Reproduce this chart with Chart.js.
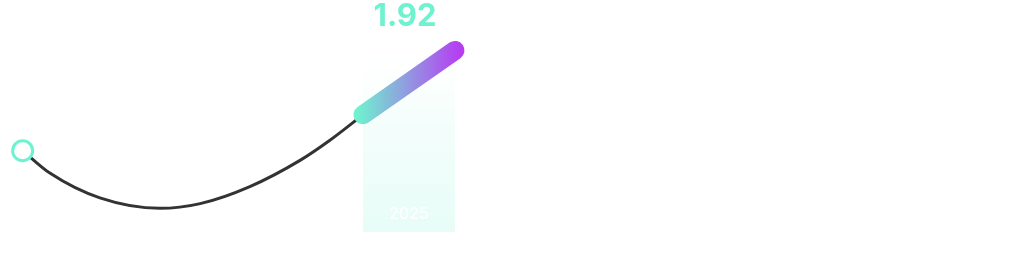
<!DOCTYPE html>
<html>
<head>
<meta charset="utf-8">
<script src="https://cdn.jsdelivr.net/npm/chart.js@4"></script>
<style>
  html, body { margin: 0; padding: 0; background: #fff; }
  #wrap { width: 1024px; height: 258px; position: relative; }
</style>
</head>
<body>
<div id="wrap"><canvas id="chart"></canvas></div>
<script>
// Datos de la curva (anio fraccional, valor)
const trendYears = [2021.30, 2021.60, 2022.14, 2022.79, 2023.23, 2023.77, 2024.32, 2024.64, 2025.00];
const trendValues = [0.86, 0.62, 0.36, 0.25, 0.30, 0.48, 0.76, 0.97, 1.24];
// Tramo destacado
const highlightYears = [2025, 2026];
const highlightValues = [1.24, 1.92];
const highlightLabel = '2025';
const valueLabel = '1.92';

const mint = '#6ff2cf';
const purple = '#b63cf2';

const toPoints = (xs, ys) => xs.map((x, i) => ({ x, y: ys[i] }));

function bandGradient(context) {
  const chart = context.chart;
  const area = chart.chartArea;
  if (!area) return 'rgba(111,242,207,0.12)';
  const top = chart.scales.y.getPixelForValue(highlightValues[1]);
  const g = chart.ctx.createLinearGradient(0, top, 0, area.bottom);
  g.addColorStop(0, 'rgba(111,242,207,0)');
  g.addColorStop(0.12, 'rgba(111,242,207,0.01)');
  g.addColorStop(0.4, 'rgba(111,242,207,0.08)');
  g.addColorStop(1, 'rgba(111,242,207,0.16)');
  return g;
}

function strokeGradient(context) {
  const chart = context.chart;
  if (!chart.chartArea) return mint;
  const x0 = chart.scales.x.getPixelForValue(highlightYears[0]);
  const x1 = chart.scales.x.getPixelForValue(highlightYears[1]);
  const g = chart.ctx.createLinearGradient(x0 - 6, 0, x1 + 6, 0);
  g.addColorStop(0, mint);
  g.addColorStop(1, purple);
  return g;
}

const labelPlugin = {
  id: 'labels',
  afterDatasetsDraw(chart) {
    const { ctx, chartArea, scales } = chart;
    const cx = (scales.x.getPixelForValue(highlightYears[0]) + scales.x.getPixelForValue(highlightYears[1])) / 2;
    ctx.save();
    ctx.textAlign = 'center';
    ctx.textBaseline = 'middle';
    ctx.fillStyle = mint;
    ctx.font = 'bold 31px Inter, "Noto Sans", sans-serif';
    ctx.fillText(valueLabel, cx - 4, scales.y.getPixelForValue(highlightValues[1]) - 34);
    ctx.fillStyle = '#ffffff';
    ctx.font = '16px Inter, "Noto Sans", sans-serif';
    ctx.fillText(highlightLabel, cx, chartArea.bottom - 18);
    ctx.restore();
  }
};

new Chart(document.getElementById('chart'), {
  type: 'line',
  data: {
    datasets: [
      {
        data: toPoints(highlightYears, highlightValues),
        borderColor: strokeGradient,
        borderWidth: 19,
        borderCapStyle: 'round',
        pointRadius: 0,
        fill: false,
        clip: false,
        order: 1
      },
      {
        data: toPoints(trendYears, trendValues),
        borderColor: '#333333',
        borderWidth: 3,
        borderCapStyle: 'round',
        cubicInterpolationMode: 'monotone',
        pointRadius: (c) => (c.dataIndex === 0 ? 10 : 0),
        pointBorderColor: mint,
        pointBackgroundColor: '#ffffff',
        pointBorderWidth: 3,
        fill: false,
        clip: false,
        order: 2
      },
      {
        data: toPoints(highlightYears, [highlightValues[1], highlightValues[1]]),
        borderWidth: 0,
        pointRadius: 0,
        backgroundColor: bandGradient,
        fill: 'origin',
        order: 3
      }
    ]
  },
  options: {
    responsive: true,
    maintainAspectRatio: false,
    animation: false,
    layout: { autoPadding: false, padding: { top: 5, bottom: 26, left: 0, right: 0 } },
    plugins: { legend: { display: false }, tooltip: { enabled: false } },
    scales: {
      x: { type: 'linear', min: 2021.054, max: 2032.185, display: false },
      y: { min: 0, max: 2.4, display: false }
    }
  },
  plugins: [labelPlugin]
});
</script>
</body>
</html>
